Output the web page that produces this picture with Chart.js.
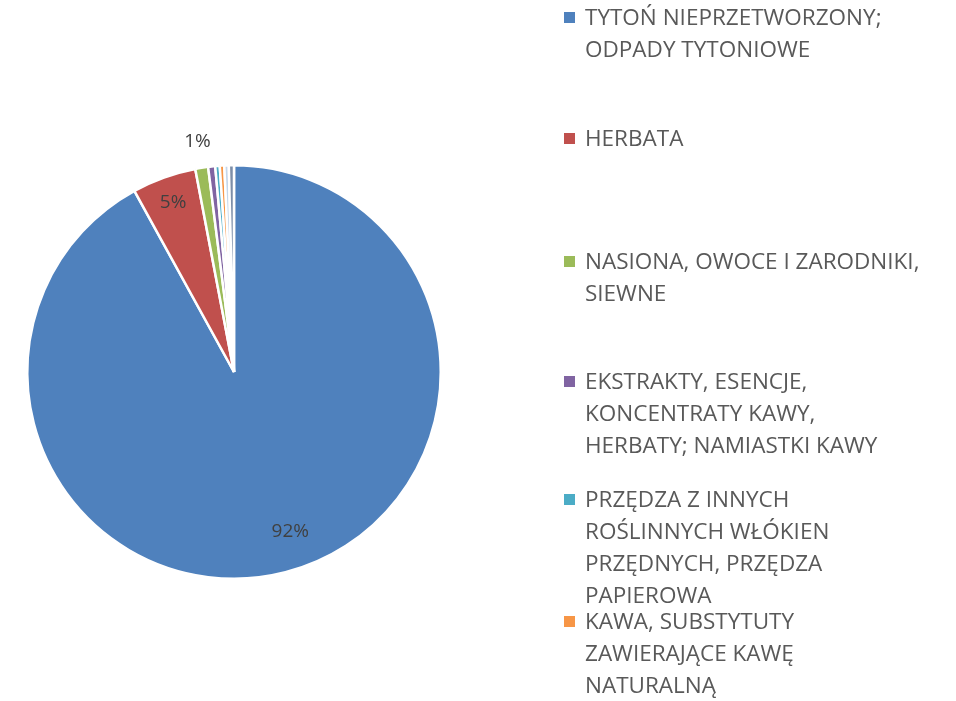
<!DOCTYPE html>
<html>
<head>
<meta charset="utf-8">
<script src="https://cdn.jsdelivr.net/npm/chart.js@4"></script>
<style>
html,body{margin:0;padding:0;background:#fff;}
#wrap{position:relative;width:956px;height:701px;overflow:hidden;}
#c{position:absolute;left:0;top:0;}
.lg{position:absolute;left:564px;font-family:"Open Sans",sans-serif;font-size:22.5px;color:#595959;line-height:32px;}
.lg .sq{position:absolute;left:0;top:11px;width:11px;height:11px;}
.lg .tx{position:absolute;left:21px;top:0;white-space:nowrap;}
</style>
</head>
<body>
<div id="wrap">
<canvas id="c" width="956" height="701"></canvas>
<div id="legend"></div>
</div>
<script>
const categories = [
  ["TYTOŃ NIEPRZETWORZONY;", "ODPADY TYTONIOWE"],
  ["HERBATA"],
  ["NASIONA, OWOCE I ZARODNIKI,", "SIEWNE"],
  ["EKSTRAKTY, ESENCJE,", "KONCENTRATY KAWY,", "HERBATY; NAMIASTKI KAWY"],
  ["PRZĘDZA Z INNYCH", "ROŚLINNYCH WŁÓKIEN", "PRZĘDNYCH, PRZĘDZA", "PAPIEROWA"],
  ["KAWA, SUBSTYTUTY", "ZAWIERAJĄCE KAWĘ", "NATURALNĄ"],
  ["(pozostałe 1)"],
  ["(pozostałe 2)"]
];
const shares = [92.0, 5.0, 1.0, 0.55, 0.35, 0.35, 0.35, 0.4];
const valueLabels = ["92%", "5%", "1%", "", "", "", "", ""];
const colors = ["#4F81BD", "#C0504D", "#9BBB59", "#8064A2", "#4BACC6", "#F79646", "#C5D6EA", "#7D8EA8"];
const legendCount = 6;
const legendTops = [1, 122, 245, 365, 483, 605];

// HTML legend (only the first six entries are visible, as in the original)
const lg = document.getElementById('legend');
categories.slice(0, legendCount).forEach((lines, i) => {
  const d = document.createElement('div');
  d.className = 'lg';
  d.style.top = legendTops[i] + 'px';
  const sq = document.createElement('div');
  sq.className = 'sq';
  sq.style.background = colors[i];
  const tx = document.createElement('div');
  tx.className = 'tx';
  tx.innerHTML = lines.join('<br>');
  d.appendChild(sq); d.appendChild(tx);
  lg.appendChild(d);
});

const labelPlugin = {
  id: 'valueLabels',
  afterDatasetsDraw(chart) {
    const ctx = chart.ctx;
    const meta = chart.getDatasetMeta(0);
    ctx.save();
    ctx.font = '19px "Open Sans", sans-serif';
    ctx.fillStyle = '#404040';
    ctx.textAlign = 'center';
    ctx.textBaseline = 'middle';
    const factors = [0.82, 0.87, 1.13];
    const angleShift = [-5 * Math.PI / 180, 0, 0];
    meta.data.forEach((arc, i) => {
      const t = valueLabels[i];
      if (!t) return;
      const p = arc.getProps(['x','y','startAngle','endAngle','outerRadius'], true);
      const mid = (p.startAngle + p.endAngle) / 2 + angleShift[i];
      const r = p.outerRadius * factors[i];
      ctx.fillText(t, p.x + Math.cos(mid) * r, p.y + Math.sin(mid) * r);
    });
    ctx.restore();
  }
};

new Chart(document.getElementById('c'), {
  type: 'pie',
  data: {
    labels: categories.map(l => l.join(' ')),
    datasets: [{
      data: shares,
      backgroundColor: colors,
      borderColor: '#ffffff',
      borderWidth: 2.5
    }]
  },
  options: {
    responsive: false,
    animation: false,
    layout: { padding: { left: 26, top: 164, right: 514, bottom: 121 } },
    plugins: {
      legend: { display: false },
      tooltip: { enabled: false }
    }
  },
  plugins: [labelPlugin]
});
</script>
</body>
</html>
